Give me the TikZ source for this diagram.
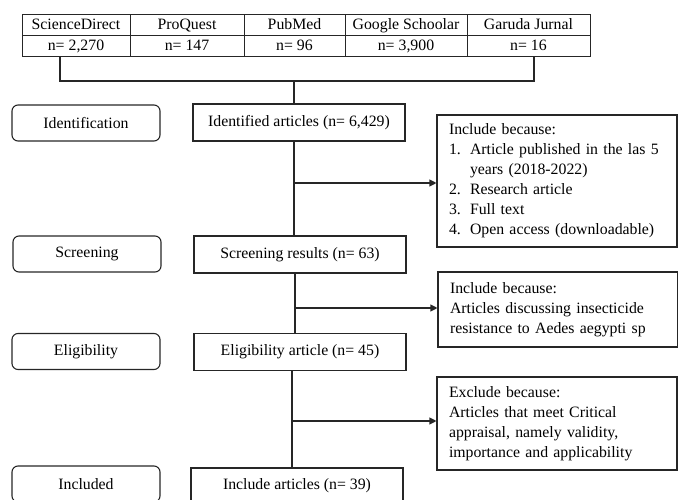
\documentclass[tikz,border=0pt]{standalone}
\usepackage{fontspec}
\setmainfont{Liberation Serif}
\usetikzlibrary{arrows.meta}

\tikzset{
    cell/.style={draw=black!85, line width=1pt, minimum height=21pt, inner sep=0pt, text height=11pt, text depth=3.5pt},
    stage/.style={draw=black!85, line width=1.1pt, rounded corners=6pt, minimum width=148pt, minimum height=36pt},
    count/.style={draw=black!85, line width=1.1pt, minimum width=212pt, minimum height=37pt},
    note/.style={draw=black!85, line width=1.1pt, minimum width=240pt, text width=216pt, inner xsep=12pt, align=left},
    link/.style={draw=black!85, line width=1.1pt},
    arr/.style={link, -{Triangle[length=7pt,width=7pt]}}
}

\begin{document}
\begin{tikzpicture}[x=1pt,y=-1pt,every node/.style={font=\fontsize{15.8}{20}\selectfont}]
    \useasboundingbox (0,0) rectangle (678,500);
    \clip (0,0) rectangle (678,500);

    % databases
    \node[cell, minimum width=108pt] (src1) at (76,25.5) {ScienceDirect};
    \node[cell, minimum width=114pt] (src2) at (187,25.5) {ProQuest};
    \node[cell, minimum width=101pt] (src3) at (294.5,25.5) {PubMed};
    \node[cell, minimum width=122pt] (src4) at (406,25.5) {Google Schoolar};
    \node[cell, minimum width=123pt] (src5) at (528.5,25.5) {Garuda Jurnal};
    \node[cell, minimum width=108pt] (num1) at (76,46.5) {n= 2,270};
    \node[cell, minimum width=114pt] (num2) at (187,46.5) {n= 147};
    \node[cell, minimum width=101pt] (num3) at (294.5,46.5) {n= 96};
    \node[cell, minimum width=122pt] (num4) at (406,46.5) {n= 3,900};
    \node[cell, minimum width=123pt] (num5) at (528.5,46.5) {n= 16};

    % stages
    \node[stage] (idn) at (86,123) {Identification};
    \node[stage] (scr) at (87,254) {Screening};
    \node[stage] (elg) at (86,351.5) {Eligibility};
    \node[stage] (inc) at (86,484) {Included};

    % counts
    \node[count] (idf) at (299,122.5) {Identified articles (n= 6,429)};
    \node[count] (scrres) at (300,254.5) {Screening results (n= 63)};
    \node[count] (elgart) at (300,352) {Eligibility article (n= 45)};
    \node[count, minimum height=36pt] (incart) at (297,486) {Include articles (n= 39)};

    % criteria
    \node[note, minimum height=132pt] (crit1) at (557,181) {Include because:\\
        \makebox[21pt][l]{1.}Article published in the las 5\\
        \hspace*{21pt}years (2018-2022)\\
        \makebox[21pt][l]{2.}Research article\\
        \makebox[21pt][l]{3.}Full text\\
        \makebox[21pt][l]{4.}Open access (downloadable)};
    \node[note, minimum height=75pt] (crit2) at (558,309.5) {Include because:\\
        Articles discussing insecticide\\
        resistance to Aedes aegypti sp};
    \node[note, minimum height=93pt] (crit3) at (557,423.5) {Exclude because:\\
        Articles that meet Critical\\
        appraisal, namely validity,\\
        importance and applicability};

    % connectors
    \coordinate (jl) at (60,81);
    \coordinate (jr) at (534,81);
    \coordinate (jm) at (294,81);
    \coordinate (b1) at (294,183);
    \coordinate (b2) at (295,308);
    \coordinate (b3) at (292,421);
    \draw[link] (num1.south -| jl) -- (jl) -- (jr) -- (num5.south -| jr);
    \draw[link] (jm) -- (idf.north -| jm);
    \draw[link] (idf.south -| b1) -- (scrres.north -| b1);
    \draw[link] (scrres.south -| b2) -- (elgart.north -| b2);
    \draw[link] (elgart.south -| b3) -- (incart.north -| b3);
    \draw[arr] (b1) -- (crit1.west |- b1);
    \draw[arr] (b2) -- (crit2.west |- b2);
    \draw[arr] (b3) -- (crit3.west |- b3);
\end{tikzpicture}
\end{document}
